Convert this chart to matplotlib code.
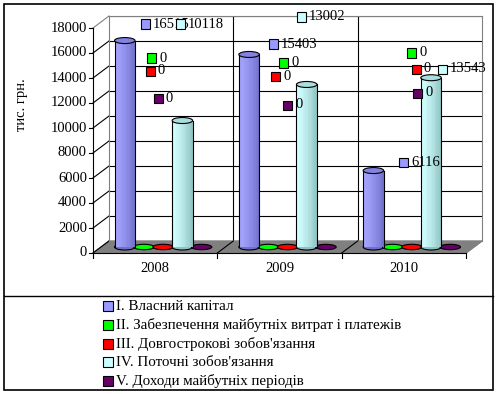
import numpy as np
import matplotlib
matplotlib.use("Agg")
import matplotlib.pyplot as plt
from matplotlib.patches import Rectangle, Ellipse, Polygon
from matplotlib.lines import Line2D
from matplotlib.colors import to_rgb

plt.rcParams['font.family'] = ['Liberation Serif', 'DejaVu Serif']

years = ['2008', '2009', '2010']
series = ['I. Власний капітал',
          'II. Забезпечення майбутніх витрат і платежів',
          "III. Довгострокові зобов'язання",
          "IV. Поточні зобов'язання",
          'V. Доходи майбутніх періодів']
colors = ['#9999ff', '#00ff00', '#ff0000', '#ccffff', '#660066']
shades = ['#7070cc', '#00a800', '#a80000', '#8fc2c2', '#3a003a']

capital = [16515, 15403, 6116]
provisions = [0, 0, 0]
long_term = [0, 0, 0]
current = [10118, 13002, 13543]
deferred = [0, 0, 0]
values = [capital, provisions, long_term, current, deferred]
yticks = list(range(0, 18001, 2000))

# where excel dropped the value labels (pixels from top left of picture)
label_pos = [
    [(141, 24), (269, 44), (399, 162)],
    [(147, 58), (279, 63), (407, 53)],
    [(146, 71), (271, 76), (412, 69)],
    [(176, 24), (297, 17), (438, 69)],
    [(154, 98), (283, 105), (413, 93)],
]

W, H = 500, 394
def fx(px):
    return px / W
def fy(py):
    return 1 - py / H

def mix(c1, c2, t):
    a = np.array(to_rgb(c1))
    b = np.array(to_rgb(c2))
    return tuple(a + (b - a) * t)

fig = plt.figure(figsize=(5, 3.94), dpi=100)
# back wall of the 3d chart
ax = fig.add_axes([fx(109), fy(241), 373 / W, 225 / H])
ax.set_xlim(-0.5, 2.5)
ax.set_ylim(0, 18000)
ax.set_xticks([])
ax.set_yticks([])
for s in ['left', 'top', 'right']:
    ax.spines[s].set_color('#808080')
ax.spines['bottom'].set_visible(False)

xpp = 3 / 373.0       # data per pixel
ypp = 18000 / 225.0
DX = -16 * xpp        # front plane offset
DY = -12 * ypp

# floor
ax.add_patch(Polygon([(-0.5, 0), (2.5, 0), (2.5 + DX, DY), (-0.5 + DX, DY)],
                     closed=True, fc='#808080', ec='#808080', clip_on=False, zorder=1))

for v in yticks[1:]:
    ax.plot([-0.5, 2.5], [v, v], color='k', lw=0.8, zorder=0.5)
for b in [0.5, 1.5]:
    ax.plot([b, b], [0, 18000], color='k', lw=0.8, zorder=0.5)
    ax.plot([b, b + DX], [0, DY], color='k', lw=0.8, clip_on=False, zorder=1.5)

# side wall lines and front value axis
for v in yticks:
    c = '#808080' if v == yticks[-1] else 'k'
    ax.plot([-0.5 + DX, -0.5], [v + DY, v], color=c, lw=0.8, clip_on=False)
    ax.plot([-0.5 + DX - 4 * xpp, -0.5 + DX], [v + DY, v + DY], color='k', lw=0.8, clip_on=False)
    ax.text(-0.5 + DX - 6 * xpp, v + DY, str(v), ha='right', va='center', fontsize=10.5)
ax.plot([-0.5 + DX, -0.5 + DX], [DY, 18000 + DY], color='k', lw=0.8, clip_on=False)
ax.plot([2.5 + DX, 2.5], [DY, 0], color='#808080', lw=0.8, clip_on=False)

# category axis
ax.plot([-0.5 + DX, 2.5 + DX], [DY, DY], color='k', lw=0.8, clip_on=False, zorder=2)
for b in [-0.5, 0.5, 1.5, 2.5]:
    ax.plot([b + DX, b + DX], [DY, DY - 5 * ypp], color='k', lw=0.8, clip_on=False)
for i, yr in enumerate(years):
    ax.text(i + DX, DY - 15 * ypp, yr, ha='center', va='center', fontsize=10.5)

# cylinders
slot = 19.2 * xpp
bw = 20.5 * xpp
eh = 6 * ypp
mx, my = DX / 2, DY / 2
n = 16
for k, vals in enumerate(values):
    light = mix(colors[k], '#ffffff', 0.12)
    for i, v in enumerate(vals):
        cx = i + (k - 2) * slot + mx
        x0 = cx - bw / 2
        if v > 0:
            ax.add_patch(Ellipse((cx, my), bw, eh, fc=shades[k], ec='k', lw=0.8,
                                 clip_on=False, zorder=3))
            for j in range(n):
                t = (j + 0.5) / n
                c = mix(light, shades[k], t ** 1.4)
                ax.bar(x0 + j * bw / n, v, width=bw / n * 1.05, bottom=my, align='edge',
                       color=c, lw=0, clip_on=False, zorder=4)
            ax.plot([x0, x0], [my, my + v], color='k', lw=0.8, clip_on=False, zorder=5)
            ax.plot([x0 + bw, x0 + bw], [my, my + v], color='k', lw=0.8, clip_on=False, zorder=5)
            ax.add_patch(Ellipse((cx, my + v), bw, eh, fc=mix(colors[k], shades[k], 0.55),
                                 ec='k', lw=0.8, clip_on=False, zorder=6))
        else:
            ax.add_patch(Ellipse((cx, my), bw, eh * 0.9, fc=colors[k], ec='k', lw=0.8,
                                 clip_on=False, zorder=3))

# value labels
for k, vals in enumerate(values):
    for i, v in enumerate(vals):
        px, py = label_pos[k][i]
        fig.add_artist(Rectangle((fx(px), fy(py + 4.5)), 9 / W, 9 / H, transform=fig.transFigure,
                                 fc=colors[k], ec='k', lw=0.8, zorder=10 + 2 * k))
        fig.text(fx(px + 12), fy(py), str(v), ha='left', va='center', fontsize=10.5,
                 zorder=11 + 2 * k)

fig.text(fx(22), fy(105), 'тис. грн.', rotation=90, ha='center', va='center', fontsize=10.5)

# legend
for k, name in enumerate(series):
    py = 306 + k * 18.8
    fig.add_artist(Rectangle((fx(103), fy(py + 5)), 10 / W, 10 / H, transform=fig.transFigure,
                             fc=colors[k], ec='k', lw=0.8))
    fig.text(fx(116), fy(py), name, ha='left', va='center', fontsize=10.8)

# frames
fig.add_artist(Rectangle((fx(4), fy(390)), 489 / W, 386 / H, transform=fig.transFigure,
                         fill=False, ec='k', lw=1.2))
fig.add_artist(Line2D([fx(4), fx(493)], [fy(296), fy(296)], transform=fig.transFigure,
                      color='k', lw=1.0))

fig.savefig('out.png', dpi=100)
